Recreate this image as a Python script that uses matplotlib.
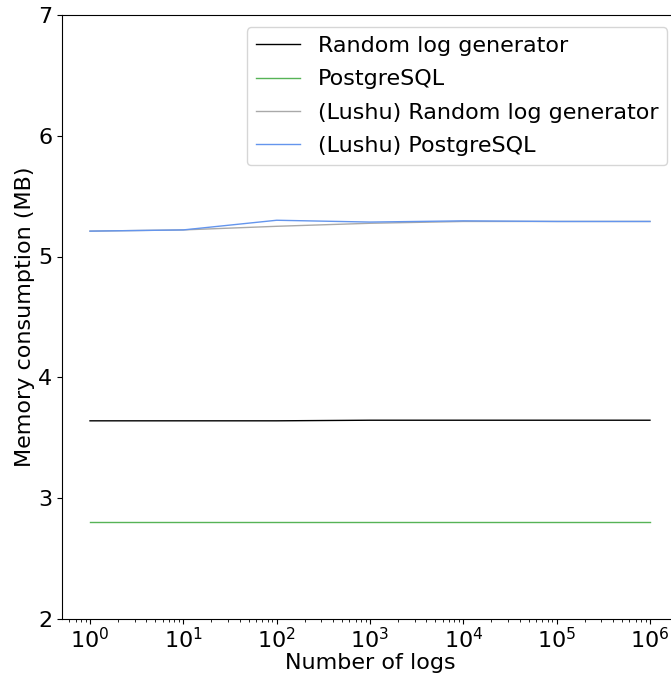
import matplotlib
matplotlib.use("Agg")
import matplotlib.pyplot as plt

# Number of logs
n_logs = [1, 10, 100, 1000, 10000, 100000, 1000000]

# Memory consumption (MB)
random_gen = [3.64, 3.64, 3.64, 3.645, 3.645, 3.645, 3.645]
postgres = [2.80, 2.80, 2.80, 2.80, 2.80, 2.80, 2.80]
lushu_random_gen = [5.21, 5.22, 5.25, 5.275, 5.29, 5.29, 5.29]
lushu_postgres = [5.21, 5.22, 5.30, 5.285, 5.295, 5.29, 5.29]

plt.rcParams['font.size'] = 16

fig = plt.figure(figsize=(6.71, 6.75), dpi=100)
ax = fig.add_axes([0.0924, 0.083, 0.918, 0.895])

ax.plot(n_logs, random_gen, color='black', linewidth=1, label='Random log generator')
ax.plot(n_logs, postgres, color='#2ca02c', linewidth=1, alpha=0.8, label='PostgreSQL')
ax.plot(n_logs, lushu_random_gen, color='darkgray', linewidth=1, label='(Lushu) Random log generator')
ax.plot(n_logs, lushu_postgres, color='cornflowerblue', linewidth=1, label='(Lushu) PostgreSQL')

ax.set_xscale('log')
ax.set_ylim(2, 7)
ax.set_xticks(n_logs)
ax.tick_params(axis='x', pad=2)
ax.set_xlabel('Number of logs', labelpad=1)
ax.set_ylabel('Memory consumption (MB)', labelpad=2)
ax.legend(loc='upper right', bbox_to_anchor=(1.001, 0.998), labelspacing=0.6)

fig.savefig('out.png', dpi=100)
